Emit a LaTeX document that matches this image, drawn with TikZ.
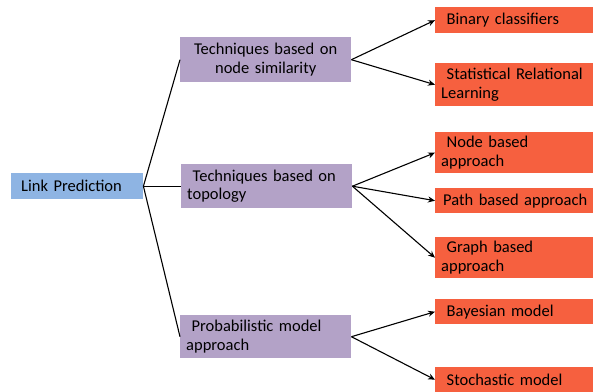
\documentclass[tikz,border=0pt]{standalone}
\usepackage{fontspec}
\setmainfont{Carlito}
\usetikzlibrary{arrows.meta}
\definecolor{lpblue}{HTML}{8EB4E3}
\definecolor{techpurple}{HTML}{B3A2C7}
\definecolor{leaforange}{HTML}{F6603F}

\begin{document}
\begin{tikzpicture}[x=1pt,y=-1pt,
    box/.style={anchor=north west,inner ysep=0pt,align=left,
        font=\fontsize{16.5}{18.5}\selectfont},
    root/.style={box,fill=lpblue,inner xsep=10pt,text width=112pt},
    tech/.style={box,fill=techpurple,inner xsep=6pt,text width=159pt},
    leaf/.style={box,fill=leaforange,inner xsep=6pt,text width=146pt},
    link/.style={black,line width=1.1pt},
    arr/.style={link,-{Stealth[length=7pt,width=6pt]}}]
    \useasboundingbox (0,0) rectangle (593,391);

    % root
    \node[root,minimum height=26pt] (LP) at (11,173) {Link Prediction};

    % techniques
    \node[tech,align=center,minimum height=45pt] (T1) at (180,37)
        {Techniques based on\\node similarity};
    \node[tech,minimum height=44pt] (T2) at (181,164)
        {\ Techniques based on\\topology};
    \node[tech,minimum height=43pt] (T3) at (180,315)
        {\ Probabilistic model\\approach};

    % leaves
    \node[leaf,minimum height=26pt] (A1) at (435,7) {\ Binary classifiers};
    \node[leaf,minimum height=43pt] (A2) at (435,63) {\ Statistical Relational\\Learning};
    \node[leaf,minimum height=41pt] (B1) at (435,132) {\ Node based\\approach};
    \node[leaf,minimum height=25pt] (B2) at (435,188) {\mbox{\hspace{2pt}Path based approach}};
    \node[leaf,minimum height=41pt] (B3) at (435,237) {\ Graph based\\approach};
    \node[leaf,minimum height=25pt] (C1) at (435,299) {\ Bayesian model};
    \node[leaf,minimum height=25pt] (C2) at (435,367) {\ Stochastic model};

    \draw[link] (LP.east) -- (T1.west);
    \draw[link] (LP.east) -- (T2.west);
    \draw[link] (LP.east) -- (T3.west);

    \draw[arr] (T1.east) -- (A1.west);
    \draw[arr] (T1.east) -- (A2.west);
    \draw[arr] (T2.east) -- (B1.west);
    \draw[arr] (T2.east) -- (B2.west);
    \draw[arr] (T2.east) -- (B3.west);
    \draw[arr] (T3.east) -- (C1.west);
    \draw[arr] (T3.east) -- (C2.west);
\end{tikzpicture}
\end{document}
